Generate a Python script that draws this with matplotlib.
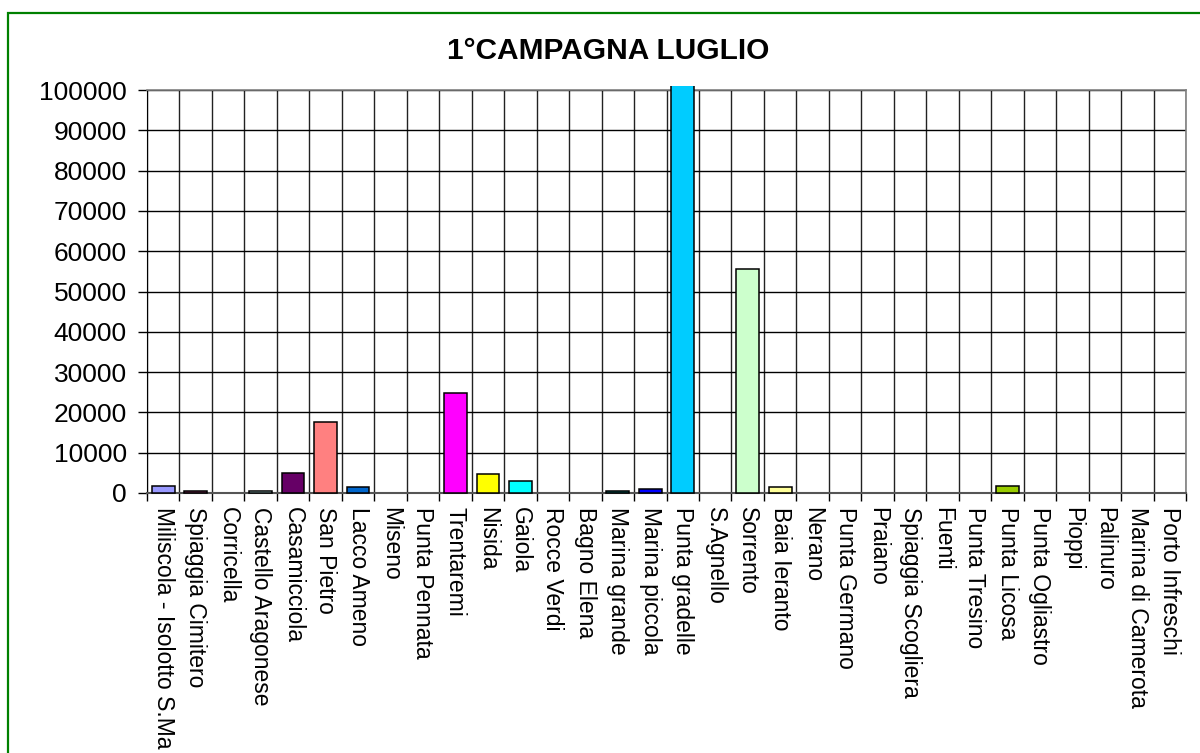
import matplotlib
matplotlib.use("Agg")
import matplotlib.pyplot as plt
from matplotlib.patches import Rectangle
from matplotlib.transforms import Bbox, TransformedBbox
import numpy as np

plt.rcParams['font.family'] = ['Liberation Sans', 'DejaVu Sans']

stations = ["Miliscola - Isolotto S.Ma", "Spiaggia Cimitero", "Corricella",
            "Castello Aragonese", "Casamicciola", "San Pietro", "Lacco Ameno",
            "Miseno", "Punta Pennata", "Trentaremi", "Nisida", "Gaiola",
            "Rocce Verdi", "Bagno Elena", "Marina grande", "Marina piccola",
            "Punta gradelle", "S.Agnello", "Sorrento", "Baia Ieranto", "Nerano",
            "Punta Germano", "Praiano", "Spiaggia Scogliera", "Fuenti",
            "Punta Tresino", "Punta Licosa", "Punta Ogliastro", "Pioppi",
            "Palinuro", "Marina di Camerota", "Porto Infreschi"]

counts = [1700, 400, 0, 500, 4900, 17600, 1400, 0, 0, 24900, 4600, 2900,
          0, 0, 600, 900, 120000, 0, 55500, 1500, 0,
          0, 0, 0, 0, 0, 1800, 0, 0, 0, 0, 0]

# excel-style palette, one colour per series
colors = ["#9999FF", "#993366", "#FFFFCC", "#CCFFFF", "#660066", "#FF8080",
          "#0066CC", "#CCCCFF", "#000080", "#FF00FF", "#FFFF00", "#00FFFF",
          "#800080", "#800000", "#008080", "#0000FF", "#00CCFF", "#CCFFFF",
          "#CCFFCC", "#FFFF99", "#99CCFF", "#FF99CC", "#CC99FF", "#FFCC99",
          "#3366FF", "#33CCCC", "#99CC00", "#FFCC00", "#FF9900", "#FF6600",
          "#666699", "#969696"]

fig = plt.figure(figsize=(12, 7.53), dpi=100)

# green outer frame (runs off the right and bottom edges)
fig.patches.append(Rectangle((8 / 1200, -0.1), 1.2, 1 - 13 / 753 + 0.1,
                             transform=fig.transFigure, fill=False,
                             edgecolor="#008000", linewidth=1.6))

ax = fig.add_axes([147 / 1200, 1 - 493 / 753, (1186 - 147) / 1200, (493 - 90) / 753])

x = np.arange(len(stations))
edge_w = [1.1 if c > 0 else 0 for c in counts]
bars = ax.bar(x, counts, width=0.7, color=colors, edgecolor="black",
              linewidth=edge_w, zorder=3)

# let the off-scale bar poke just past the top of the plot area
clip = TransformedBbox(Bbox([[0, -0.01], [1, 1.01]]), ax.transAxes)
for b in bars:
    b.set_clip_box(clip)

ax.set_xlim(-0.5, len(stations) - 0.5)
ax.set_ylim(0, 100000)
ax.set_yticks(np.arange(0, 100001, 10000))
ax.set_yticklabels([str(v) for v in range(0, 100001, 10000)], fontsize=19)

ax.set_xticks(x)
ax.set_xticklabels(stations, rotation=270, fontsize=16.5, ha="center", va="top")
ax.set_xticks(np.arange(-0.5, len(stations), 1), minor=True)
ax.tick_params(axis="x", which="major", length=0, pad=10)
ax.tick_params(axis="x", which="minor", length=6, width=1, color="black")
ax.tick_params(axis="y", length=6.5, width=1, pad=8)

ax.grid(axis="y", which="major", color="black", linewidth=1, zorder=0)
ax.grid(axis="x", which="minor", color="#222222", linewidth=1, zorder=0)
ax.grid(axis="x", which="major", visible=False)
ax.set_axisbelow(True)

for side in ["top", "right"]:
    ax.spines[side].set_color("#808080")
    ax.spines[side].set_linewidth(1.2)
ax.spines["left"].set_color("black")
ax.spines["bottom"].set_color("#555555")
ax.spines["bottom"].set_linewidth(1.5)

fig.text(608 / 1200, 1 - 51 / 753, "1°CAMPAGNA LUGLIO", fontsize=21.5,
         fontweight="bold", ha="center", va="center")

fig.savefig("out.png", dpi=100)
